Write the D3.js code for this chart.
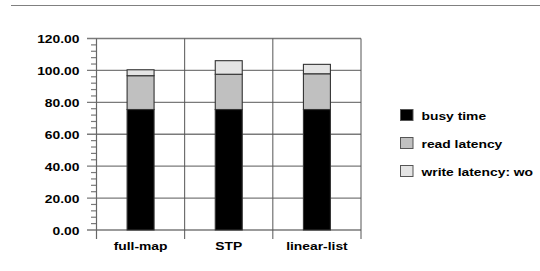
<!DOCTYPE html>
<html>
<head>
<meta charset="utf-8">
<script src="https://cdn.jsdelivr.net/npm/d3@7"></script>
<style>
  body { margin: 0; background: #fff; }
  text { font-family: "Liberation Sans", Arial, sans-serif; font-weight: bold; font-size: 11px; fill: #000; }
</style>
</head>
<body>
<div id="chart"></div>
<script>
// chart data
const categories = ["full-map", "STP", "linear-list"];
const seriesNames = ["busy time", "read latency", "write latency: wo"];
const busyTime = [75.5, 75.5, 75.5];
const readLatency = [21.2, 22.1, 22.4];
const writeLatency = [3.7, 8.5, 5.9];
const yTicks = [0, 20, 40, 60, 80, 100, 120];
const colors = ["#000000", "#c0c0c0", "#e4e4e4"];

const width = 540;
const height = 271;
// the original text is stretched sideways
const stretch = 1.26;

const svg = d3.select("#chart")
    .append("svg")
    .attr("width", width)
    .attr("height", height);

function place(x0, y0) {
    return "translate(" + x0 + "," + y0 + ") scale(" + stretch + ",1)";
}

// top rule
svg.append("line")
    .attr("x1", 11).attr("x2", width)
    .attr("y1", 5.5).attr("y2", 5.5)
    .attr("stroke", "#808080")
    .attr("stroke-width", 1.2);

const x = d3.scaleBand()
    .domain(categories)
    .range([96.5, 361])
    .padding(0);

const y = d3.scaleLinear()
    .domain([0, 120])
    .range([230, 38.5]);

// horizontal grid lines
svg.append("g")
    .selectAll("line")
    .data(yTicks)
    .enter().append("line")
    .attr("x1", 87).attr("x2", 361)
    .attr("y1", d => y(d)).attr("y2", d => y(d))
    .attr("stroke", "#7a7a7a")
    .attr("stroke-width", 1.3);

// minor ticks
svg.append("g")
    .selectAll("line")
    .data(d3.range(0, 121, 4).filter(d => d % 20 !== 0))
    .enter().append("line")
    .attr("x1", 91).attr("x2", 96.5)
    .attr("y1", d => y(d)).attr("y2", d => y(d))
    .attr("stroke", "#7a7a7a")
    .attr("stroke-width", 1.2);

// y axis line
svg.append("line")
    .attr("x1", 96.5).attr("x2", 96.5)
    .attr("y1", y(120)).attr("y2", 239)
    .attr("stroke", "#666")
    .attr("stroke-width", 1.2);

// category dividers
svg.append("g")
    .selectAll("line")
    .data(categories)
    .enter().append("line")
    .attr("x1", d => x(d) + x.bandwidth())
    .attr("x2", d => x(d) + x.bandwidth())
    .attr("y1", y(120)).attr("y2", 239)
    .attr("stroke", "#555")
    .attr("stroke-width", 1);

// y labels
svg.append("g")
    .selectAll("text")
    .data(yTicks)
    .enter().append("text")
    .attr("transform", d => place(79.5, y(d)))
    .attr("dy", "0.43em")
    .attr("text-anchor", "end")
    .text(d => d.toFixed(2));

// x labels
svg.append("g")
    .selectAll("text")
    .data(categories)
    .enter().append("text")
    .attr("transform", d => place(x(d) + x.bandwidth() / 2, 249.5))
    .attr("text-anchor", "middle")
    .text(d => d);

// stacked bars
const rows = categories.map((c, i) => ({
    cat: c, busy: busyTime[i], read: readLatency[i], write: writeLatency[i]
}));
const stack = d3.stack().keys(["busy", "read", "write"]);
const layers = stack(rows);
const barW = x.bandwidth() * 0.306;

layers.forEach((layer, k) => {
    svg.append("g")
        .selectAll("rect")
        .data(layer)
        .enter().append("rect")
        .attr("x", d => x(d.data.cat) + x.bandwidth() / 2 - barW / 2)
        .attr("width", barW)
        .attr("y", d => y(d[1]))
        .attr("height", d => y(d[0]) - y(d[1]))
        .attr("fill", colors[k])
        .attr("stroke", "#333")
        .attr("stroke-width", 1.1);
});

// legend
const legend = svg.append("g")
    .attr("transform", "translate(400, 109)");

seriesNames.forEach((name, i) => {
    legend.append("rect")
        .attr("x", 0.5)
        .attr("y", i * 28 + 0.5)
        .attr("width", 12.5)
        .attr("height", 11)
        .attr("fill", colors[i])
        .attr("stroke", "#555")
        .attr("stroke-width", 1);
    legend.append("text")
        .attr("transform", place(21.5, i * 28 + 11))
        .text(name);
});
</script>
</body>
</html>
